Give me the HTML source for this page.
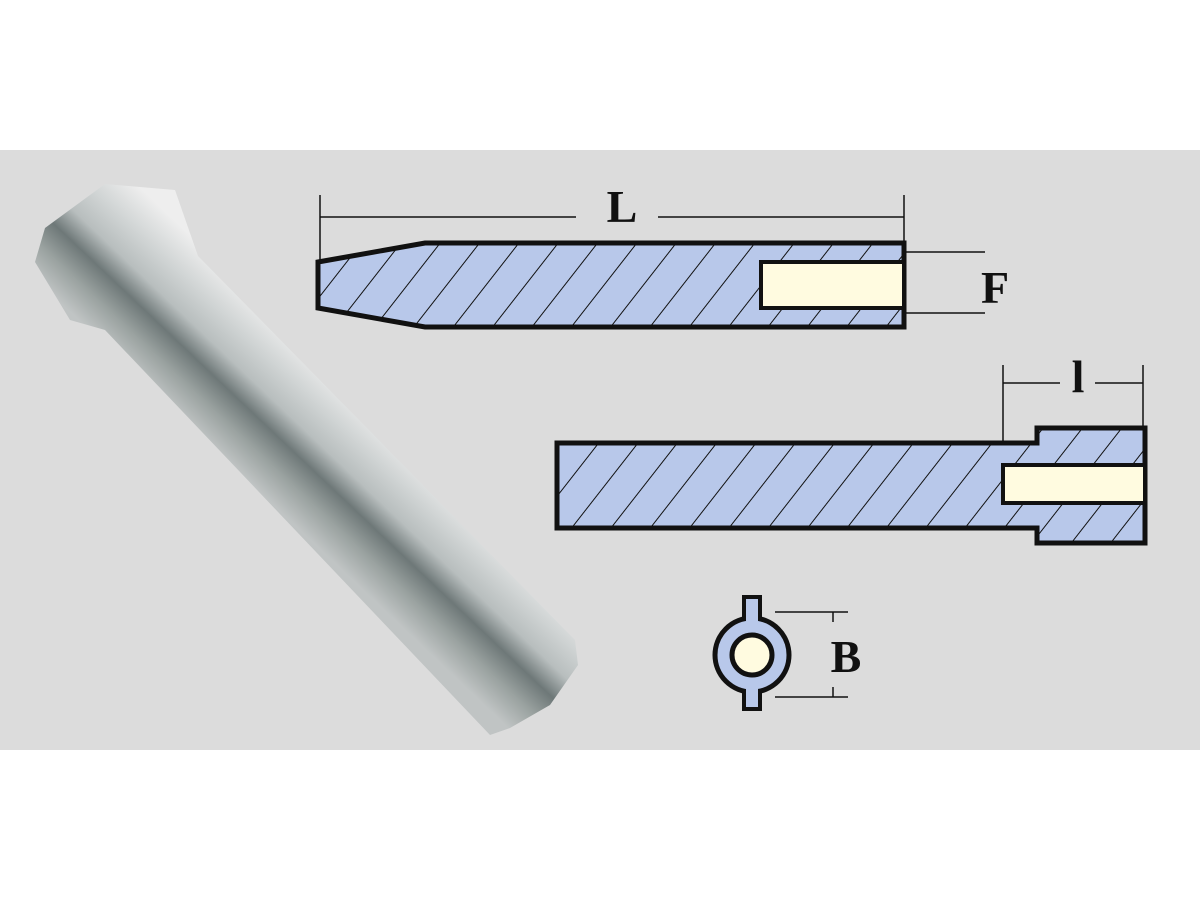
<!DOCTYPE html>
<html><head><meta charset="utf-8"><style>
html,body{margin:0;padding:0;background:#fff;}
svg{display:block;}
text{font-family:"Liberation Serif",serif;font-weight:bold;fill:#111;}
</style></head><body>
<svg width="1200" height="900" viewBox="0 0 1200 900" xmlns="http://www.w3.org/2000/svg">
<defs>
<pattern id="h" patternUnits="userSpaceOnUse" width="31" height="31" patternTransform="rotate(38)">
<rect width="31" height="31" fill="#b8c8ea"/>
<line x1="0" y1="0" x2="0" y2="31" stroke="#111" stroke-width="2"/>
</pattern>
<linearGradient id="m" gradientUnits="userSpaceOnUse" x1="395" y1="430" x2="300" y2="530">
<stop offset="0" stop-color="#eeeeee"/>
<stop offset="0.25" stop-color="#d0d4d4"/>
<stop offset="0.45" stop-color="#b8bebe"/>
<stop offset="0.62" stop-color="#6e7878"/>
<stop offset="0.8" stop-color="#9aa2a0"/>
<stop offset="1" stop-color="#c0c4c4"/>
</linearGradient>
</defs>
<rect x="0" y="150" width="1200" height="600" fill="#dcdcdc"/>
<polygon points="105,184 175,190 198,256 575,640 578,665 550,705 510,728 490,735 105,330 70,320 35,262 45,228" fill="url(#m)"/>
<g stroke="#111" fill="none" stroke-width="1.5">
<line x1="320" y1="195" x2="320" y2="262"/>
<line x1="904" y1="195" x2="904" y2="243"/>
<line x1="320" y1="217" x2="576" y2="217"/>
<line x1="658" y1="217" x2="904" y2="217"/>
<line x1="904" y1="252" x2="985" y2="252"/>
<line x1="904" y1="313" x2="985" y2="313"/>
</g>
<polygon points="318,262 425,243 904,243 904,327 425,327 318,308" fill="url(#h)" stroke="#111" stroke-width="5"/>
<rect x="761" y="262" width="143" height="46" fill="#fffbe0" stroke="#111" stroke-width="4"/>
<text x="622" y="222" font-size="46" text-anchor="middle">L</text>
<text x="995" y="303" font-size="46" text-anchor="middle">F</text>
<g stroke="#111" fill="none" stroke-width="1.5">
<line x1="1003" y1="365" x2="1003" y2="443"/>
<line x1="1143" y1="365" x2="1143" y2="428"/>
<line x1="1003" y1="383" x2="1060" y2="383"/>
<line x1="1095" y1="383" x2="1143" y2="383"/>
</g>
<polygon points="557,443 1037,443 1037,428 1145,428 1145,543 1037,543 1037,528 557,528" fill="url(#h)" stroke="#111" stroke-width="5"/>
<rect x="1003" y="465" width="142" height="38" fill="#fffbe0" stroke="#111" stroke-width="4"/>
<text x="1078" y="392" font-size="46" text-anchor="middle">l</text>
<g stroke="#111" stroke-width="1.5">
<line x1="775" y1="612" x2="848" y2="612"/>
<line x1="775" y1="697" x2="848" y2="697"/>
<line x1="833" y1="612" x2="833" y2="622"/>
<line x1="833" y1="687" x2="833" y2="697"/>
</g>
<rect x="744" y="597" width="16" height="112" fill="#b8c8ea" stroke="#111" stroke-width="4"/>
<circle cx="752" cy="655" r="37" fill="#b8c8ea" stroke="#111" stroke-width="5"/>
<rect x="746" y="600" width="12" height="106" fill="#b8c8ea"/>
<circle cx="752" cy="655" r="20" fill="#fffbe0" stroke="#111" stroke-width="5"/>
<text x="846" y="672" font-size="46" text-anchor="middle">B</text>
</svg>
</body></html>
